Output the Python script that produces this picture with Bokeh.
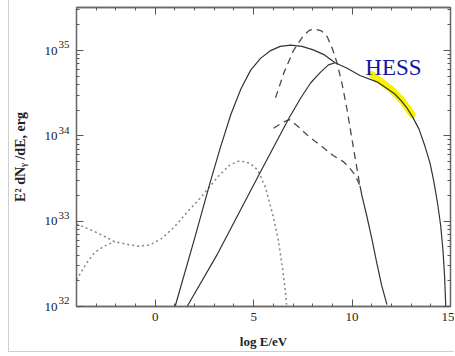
from bokeh.plotting import figure
from bokeh.models import (LinearAxis, LogAxis, Label, Range1d, FixedTicker,
                          LogScale, CustomJSTickFormatter)
from bokeh.embed import file_html
from bokeh.resources import INLINE

# log10(E/eV) positions and E^2 dN/dE values (erg) of each curve

# total spectrum (solid, peaks near log E = 7, runs through the HESS band)
x_total = [1.01, 2.0, 2.78, 3.3, 3.84, 4.35, 4.85, 5.35, 5.86, 6.35, 6.87,
           7.45, 8.03, 8.6, 9.14, 9.75, 10.4, 11.26, 11.7, 12.17, 12.5,
           12.78, 13.08, 13.4, 13.7, 13.96, 14.15, 14.35, 14.5, 14.62, 14.7,
           14.76]
y_total = [1.0e32, 6.3e32, 2.8e33, 7.2e33, 1.78e34, 3.55e34, 5.9e34, 8.1e34,
           1.0e35, 1.12e35, 1.16e35, 1.12e35, 1.02e35, 8.9e34, 7.2e34, 6.2e34,
           5.1e34, 4.3e34, 3.7e34, 3.1e34, 2.57e34, 2.14e34, 1.66e34, 1.2e34,
           7.6e33, 4.8e33, 2.95e33, 1.58e33, 8.9e32, 4.5e32, 2.24e32, 1.0e32]

# high-energy component (solid, joins the total near log E = 9)
x_high = [1.62, 3.18, 5.35, 6.77, 7.4, 7.9, 8.4, 8.8, 9.14]
y_high = [1.0e32, 4.2e32, 3.8e33, 1.58e34, 2.8e34, 4.2e34, 5.6e34, 6.8e34, 7.2e34]

# dashed components
x_dash_a = [6.11, 6.55, 7.02, 7.53, 7.85, 8.13, 8.45, 8.74, 9.0, 9.24, 9.5,
            9.75, 10.15, 10.4]
y_dash_a = [2.8e34, 5.6e34, 1.0e35, 1.5e35, 1.74e35, 1.78e35, 1.7e35, 1.45e35,
            1.05e35, 7.1e34, 4.0e34, 2.0e34, 5.6e33, 2.6e33]
x_dash_b = [6.01, 6.5, 6.82, 7.3, 7.88, 8.5, 9.04, 9.55, 9.8, 10.15, 10.4]
y_dash_b = [1.23e34, 1.45e34, 1.55e34, 1.26e34, 9.5e33, 7.4e33, 5.9e33, 5.0e33,
            4.4e33, 3.5e33, 2.6e33]

# solid tail below the dashed components
x_tail = [10.4, 10.5, 10.76, 11.0, 11.26, 11.5, 11.77]
y_tail = [2.6e33, 2.0e33, 1.12e33, 6.3e32, 3.2e32, 1.78e32, 1.05e32]

# dotted low-energy components
x_dot_a = [-4.0, -3.5, -3.0, -2.5, -2.07, -1.5, -0.9, -0.3, 0.3, 0.96, 1.6,
           2.32, 2.8, 3.33, 3.8, 4.3, 4.8, 5.2, 5.6, 6.0, 6.25, 6.46, 6.6, 6.67]
y_dot_a = [9.3e32, 8.3e32, 7.4e32, 6.5e32, 5.75e32, 5.4e32, 5.1e32, 5.25e32,
           6.2e32, 8.5e32, 1.26e33, 1.9e33, 2.6e33, 3.6e33, 4.6e33, 5.1e33,
           4.8e33, 4.0e33, 2.5e33, 1.12e33, 6.0e32, 2.9e32, 1.58e32, 1.05e32]
x_dot_b = [-4.0, -3.5, -3.08, -2.6, -2.07]
y_dot_b = [2.05e32, 3.2e32, 4.3e32, 5.1e32, 5.75e32]

# HESS measurement band
x_hess = [11.0, 12.0, 12.6, 13.05]
y_hess = [5.25e34, 3.5e34, 2.5e34, 1.78e34]

x_major = [0, 5, 10, 15]
y_major = [1e32, 1e33, 1e34, 1e35]

Y_LO, Y_HI = 1e32, 3.2e35
SERIF = "Liberation Serif"
FRAME = "#6a6a6a"
TEXT = "#222222"

p = figure(width=446, height=352, x_range=Range1d(-4, 15),
           y_range=Range1d(Y_LO, Y_HI), y_axis_type="log",
           output_backend="svg", toolbar_location=None,
           min_border_left=66, min_border_right=5, min_border_top=7,
           min_border_bottom=46)
p.margin = (0, 0, 3, 8)
p.styles = {"border-left": "1px solid #cfcfcf",
            "border-bottom": "1px solid #cfcfcf"}

p.background_fill_color = "white"
p.border_fill_color = "white"
p.outline_line_color = FRAME
p.outline_line_width = 1.3
p.grid.visible = False

# a copy of the flux range nudged down a little, so that the decade
# exponents sit raised above their tick marks like superscripts
lift = 10 ** 0.066
p.extra_y_ranges = {"sup": Range1d(Y_LO / lift, Y_HI / lift)}
p.extra_y_scales = {"sup": LogScale()}

x_ticker = FixedTicker(ticks=x_major, minor_ticks=list(range(-4, 16)))
y_minor = [m * 10.0 ** e for e in range(31, 36) for m in range(2, 10)]
y_ticker = FixedTicker(ticks=y_major, minor_ticks=y_minor)
y_decades = FixedTicker(ticks=y_major, minor_ticks=[])

blank_fmt = CustomJSTickFormatter(code="return '';")
base_fmt = CustomJSTickFormatter(code="return '10';")
exp_fmt = CustomJSTickFormatter(code="return String(Math.round(Math.log10(tick)));")

xa = p.xaxis[0]
xa.ticker = x_ticker
xa.axis_label = "log E/eV"
ya = p.yaxis[0]
ya.ticker = y_ticker
ya.formatter = blank_fmt

top = LinearAxis(ticker=x_ticker, formatter=blank_fmt)
right = LogAxis(ticker=y_ticker, formatter=blank_fmt)
p.add_layout(top, "above")
p.add_layout(right, "right")

for ax in (xa, ya, top, right):
    ax.axis_line_color = FRAME
    ax.axis_line_width = 1.3
    ax.major_tick_in = 7
    ax.major_tick_out = 0
    ax.minor_tick_in = 3
    ax.minor_tick_out = 0
    ax.major_tick_line_color = "#555555"
    ax.minor_tick_line_color = "#555555"
    ax.major_label_text_font = SERIF
    ax.major_label_text_font_size = "13px"
    ax.major_label_text_color = TEXT

for ax in (ya, top, right):
    ax.major_label_text_font_size = "0px"
    ax.major_label_standoff = 0

xa.major_label_standoff = 6
xa.axis_label_standoff = 10
xa.axis_label_text_font = SERIF
xa.axis_label_text_font_style = "bold"
xa.axis_label_text_font_size = "13px"
xa.axis_label_text_color = TEXT

# decade labels: exponent column next to the frame, "10" column outside it
exp_axis = LogAxis(y_range_name="sup", ticker=y_decades, formatter=exp_fmt)
base_axis = LogAxis(ticker=y_decades, formatter=base_fmt)
for ax in (exp_axis, base_axis):
    ax.axis_line_color = None
    ax.major_tick_line_color = None
    ax.minor_tick_line_color = None
    ax.major_tick_in = 0
    ax.major_tick_out = 0
    ax.minor_tick_in = 0
    ax.minor_tick_out = 0
    ax.major_label_text_font = SERIF
    ax.major_label_text_color = TEXT
exp_axis.major_label_text_font_size = "11px"
exp_axis.major_label_standoff = 7
base_axis.major_label_text_font_size = "13px"
base_axis.major_label_standoff = -2
base_axis.axis_label = "E\u00b2 dN\u1d67 /dE, erg"
base_axis.axis_label_standoff = 14
base_axis.axis_label_text_font = SERIF
base_axis.axis_label_text_font_style = "bold"
base_axis.axis_label_text_font_size = "14px"
base_axis.axis_label_text_color = TEXT
p.add_layout(exp_axis, "left")
p.add_layout(base_axis, "left")

# HESS band underneath the model curve
p.line(x_hess, y_hess, line_color="#f6f200", line_width=7, line_cap="round")

p.line(x_dot_a, y_dot_a, line_color="#858585", line_width=1.5, line_dash="2 3")
p.line(x_dot_b, y_dot_b, line_color="#858585", line_width=1.5, line_dash="2 3")
p.line(x_dash_a, y_dash_a, line_color="#4a4a4a", line_width=1.3, line_dash="7 5")
p.line(x_dash_b, y_dash_b, line_color="#4a4a4a", line_width=1.3, line_dash="7 5")
p.line(x_tail, y_tail, line_color="#333333", line_width=1.2)
p.line(x_high, y_high, line_color="#333333", line_width=1.2)
p.line(x_total, y_total, line_color="#333333", line_width=1.2)

p.add_layout(Label(x=10.67, y=6.3e34, text="HESS", text_font=SERIF,
                   text_font_size="23px", text_color="#1515a0",
                   text_baseline="alphabetic"))

with open("out.html", "w", encoding="utf-8") as f:
    f.write(file_html(p, INLINE))
